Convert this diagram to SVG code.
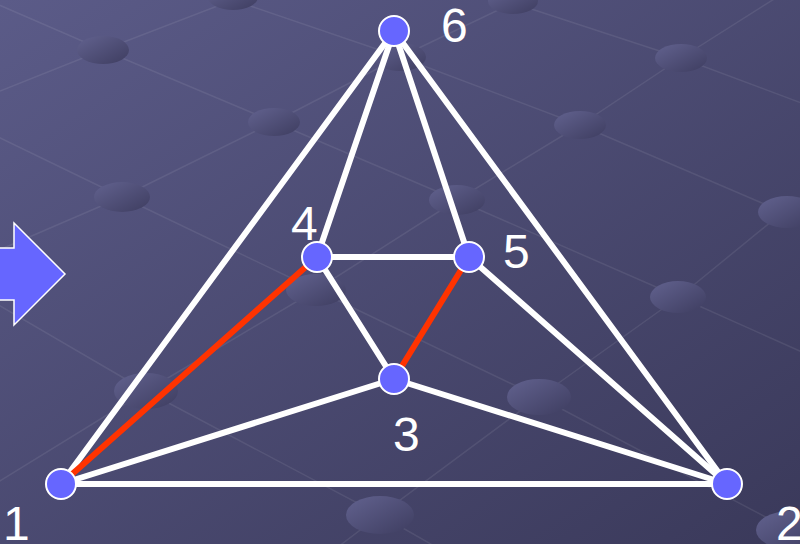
<svg xmlns="http://www.w3.org/2000/svg" width="800" height="544" viewBox="0 0 800 544">
<defs>
<linearGradient id="bg" x1="0" y1="0" x2="1" y2="1">
<stop offset="0" stop-color="#5b5b88"/>
<stop offset="1" stop-color="#3a395a"/>
</linearGradient>
<linearGradient id="dot" x1="0" y1="0" x2="1" y2="1">
<stop offset="0" stop-color="#62628f"/>
<stop offset="1" stop-color="#3e3d60"/>
</linearGradient>
<style>
.grid{fill:none;stroke:#ffffff;stroke-opacity:0.08;stroke-width:1.5}
.d{fill:url(#dot)}
.e{stroke:#ffffff;stroke-width:6;stroke-linecap:round}
.r{stroke:#ff3300;stroke-width:6;stroke-linecap:round}
.n{fill:#6666ff;stroke:#ffffff;stroke-width:2}
.t{font-family:"Liberation Sans",Arial,sans-serif;font-size:48px;fill:#ffffff}
</style>
</defs>
<rect width="800" height="544" fill="url(#bg)"/>
<g id="grid">
<polyline class="grid" points="-10,1 103,50 274,122 457,200 679,297 820,360"/>
<polyline class="grid" points="-10,133 122,197 316,290 539,397 790,530 820,546"/>
<polyline class="grid" points="-10,300 146,391 380,515 450,555"/>
<polyline class="grid" points="150,-28 233,0 400,57 580,125 783,212 820,228"/>
<polyline class="grid" points="470,-10 513,3 681,58 820,110"/>
<polyline class="grid" points="0,91 103,50 233,0 260,-10"/>
<polyline class="grid" points="-10,254 122,197 274,122 400,57 513,3 540,-12"/>
<polyline class="grid" points="-10,487 146,391 316,290 457,200 580,125 681,58 820,-30"/>
<polyline class="grid" points="330,553 380,515 539,397 679,297 783,212 820,182"/>
<polyline class="grid" points="760,550 783,529 820,500"/>
<ellipse class="d" cx="103" cy="50" rx="26" ry="14"/>
<ellipse class="d" cx="233" cy="-3" rx="25" ry="13"/>
<ellipse class="d" cx="513" cy="1" rx="25" ry="13"/>
<ellipse class="d" cx="400" cy="57" rx="26" ry="14"/>
<ellipse class="d" cx="274" cy="122" rx="26" ry="14"/>
<ellipse class="d" cx="580" cy="125" rx="26" ry="14"/>
<ellipse class="d" cx="681" cy="58" rx="26" ry="14"/>
<ellipse class="d" cx="122" cy="197" rx="28" ry="15"/>
<ellipse class="d" cx="457" cy="200" rx="28" ry="15"/>
<ellipse class="d" cx="787" cy="212" rx="29" ry="16"/>
<ellipse class="d" cx="316" cy="290" rx="30" ry="16"/>
<ellipse class="d" cx="678" cy="297" rx="28" ry="16"/>
<ellipse class="d" cx="146" cy="391" rx="32" ry="18"/>
<ellipse class="d" cx="539" cy="397" rx="32" ry="18"/>
<ellipse class="d" cx="380" cy="515" rx="34" ry="19"/>
<ellipse class="d" cx="790" cy="530" rx="34" ry="19"/>
</g>
<polygon id="arrow" points="-5,248 14,248 14,223 65,274 14,325 14,300 -5,300" fill="#6666ff" stroke="#ffffff" stroke-width="1.5"/>
<g id="connectors">
<line class="e" x1="61" y1="484" x2="394" y2="31"/>
<line class="e" x1="61" y1="484" x2="394" y2="379"/>
<line class="e" x1="61" y1="484" x2="727" y2="484"/>
<line class="e" x1="727" y1="484" x2="394" y2="31"/>
<line class="e" x1="727" y1="484" x2="469" y2="257"/>
<line class="e" x1="727" y1="484" x2="394" y2="379"/>
<line class="e" x1="394" y1="31" x2="317" y2="257"/>
<line class="e" x1="394" y1="31" x2="469" y2="257"/>
<line class="e" x1="317" y1="257" x2="469" y2="257"/>
<line class="e" x1="317" y1="257" x2="394" y2="379"/>
<line class="r" x1="61" y1="484" x2="317" y2="257"/>
<line class="r" x1="469" y1="257" x2="394" y2="379"/>
</g>
<g id="n1"><circle class="n" cx="61" cy="484" r="15"/><text class="t" x="3" y="540">1</text></g>
<g id="n2"><circle class="n" cx="727" cy="484" r="15"/><text class="t" x="776" y="540">2</text></g>
<g id="n3"><circle class="n" cx="394" cy="379" r="15"/><text class="t" x="393" y="451">3</text></g>
<g id="n4"><circle class="n" cx="317" cy="257" r="15"/><text class="t" x="291" y="240">4</text></g>
<g id="n5"><circle class="n" cx="469" cy="257" r="15"/><text class="t" x="503" y="268">5</text></g>
<g id="n6"><circle class="n" cx="394" cy="31" r="15"/><text class="t" x="441" y="42">6</text></g>
</svg>
